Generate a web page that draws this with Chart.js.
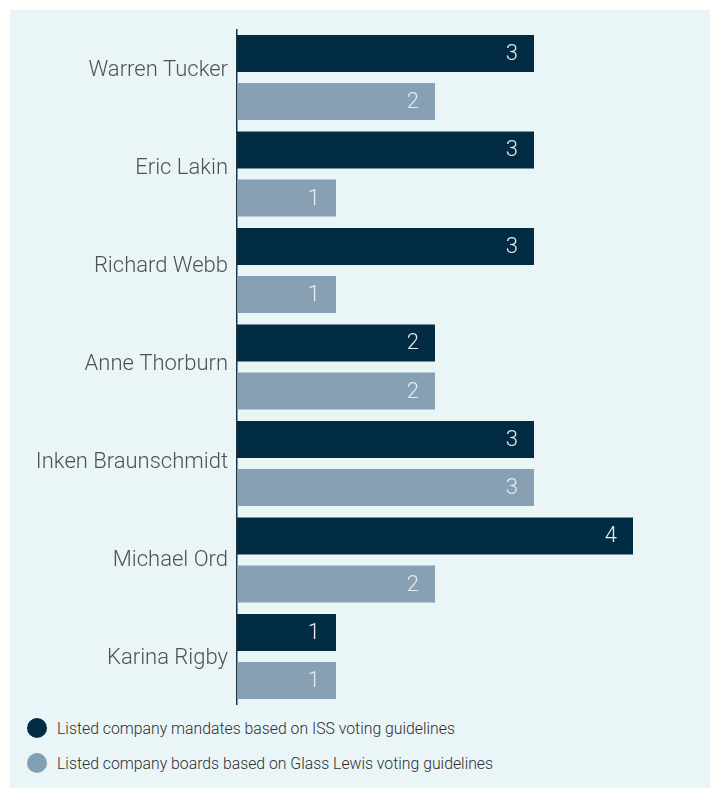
<!DOCTYPE html>
<html>
<head>
<meta charset="utf-8">
<script src="https://cdn.jsdelivr.net/npm/chart.js@4"></script>
<style>
  html, body { margin: 0; padding: 0; background: #ffffff; width: 710px; height: 788px; overflow: hidden; }
  #panel { position: absolute; left: 10px; top: 10px; width: 700px; height: 778px; background: #eaf5f8; }
  #wrap { position: absolute; left: 0; top: 0; width: 700px; height: 700px; }
  .leg { position: absolute; left: 17px; font-family: Roboto, sans-serif; font-weight: 300; font-size: 15.8px; color: #2e2e2e; display: flex; align-items: center; height: 20px; }
  .dot { width: 20px; height: 20px; border-radius: 50%; margin-right: 10px; flex: none; }
</style>
</head>
<body>
<div id="panel">
  <div id="wrap"><canvas id="c" width="700" height="700"></canvas></div>
  <div class="leg" style="top:708px"><span class="dot" style="background:#022c43"></span><span id="l1"></span></div>
  <div class="leg" style="top:743px"><span class="dot" style="background:#82a0b5"></span><span id="l2"></span></div>
</div>
<script>
const categories = ["Warren Tucker", "Eric Lakin", "Richard Webb", "Anne Thorburn", "Inken Braunschmidt", "Michael Ord", "Karina Rigby"];
const issValues = [3, 3, 3, 2, 3, 4, 1];
const glassLewisValues = [2, 1, 1, 2, 3, 2, 1];
const seriesNames = ["Listed company mandates based on ISS voting guidelines", "Listed company boards based on Glass Lewis voting guidelines"];
const seriesColors = ["#022c43", "#87a0b3"];

document.getElementById('l1').textContent = seriesNames[0];
document.getElementById('l2').textContent = seriesNames[1];

const valueLabels = {
  id: 'valueLabels',
  afterDatasetsDraw(chart) {
    const ctx = chart.ctx;
    ctx.save();
    ctx.font = '300 22px Roboto';
    ctx.fillStyle = '#e6ecef';
    ctx.textAlign = 'right';
    ctx.textBaseline = 'middle';
    chart.data.datasets.forEach((ds, di) => {
      chart.getDatasetMeta(di).data.forEach((bar, i) => {
        ctx.fillText(String(ds.data[i]), bar.x - 16, bar.y + 1);
      });
    });
    ctx.restore();
  }
};

new Chart(document.getElementById('c'), {
  type: 'bar',
  data: {
    labels: categories,
    datasets: [
      { label: seriesNames[0], data: issValues, backgroundColor: seriesColors[0], yAxisID: 'y' },
      { label: seriesNames[1], data: glassLewisValues, backgroundColor: seriesColors[1], yAxisID: 'y' }
    ]
  },
  options: {
    indexAxis: 'y',
    responsive: false,
    animation: false,
    layout: { padding: { top: 19.25, bottom: 5.25, right: 27.5, left: 0 } },
    datasets: { bar: { categoryPercentage: 0.995, barPercentage: 0.77 } },
    plugins: { legend: { display: false }, tooltip: { enabled: false } },
    scales: {
      x: { display: false, min: 0, max: 4.5 },
      y: { display: false },
      yNames: {
        type: 'linear',
        position: 'left',
        reverse: true,
        offset: false,
        min: -0.4188,
        max: 6.4740,
        grid: { display: false, drawTicks: false, offset: false },
        border: { display: true, color: '#1f3442', width: 1.5 },
        afterBuildTicks(scale) { scale.ticks = categories.map((c, i) => ({ value: i })); },
        ticks: {
          autoSkip: false,
          color: '#505050',
          font: { family: 'Roboto', size: 22, weight: '300' },
          padding: 9,
          callback: (v) => categories[v]
        },
        afterFit(scale) { scale.width = 227; scale.paddingTop = 0; scale.paddingBottom = 0; }
      }
    }
  },
  plugins: [valueLabels]
});
</script>
</body>
</html>
